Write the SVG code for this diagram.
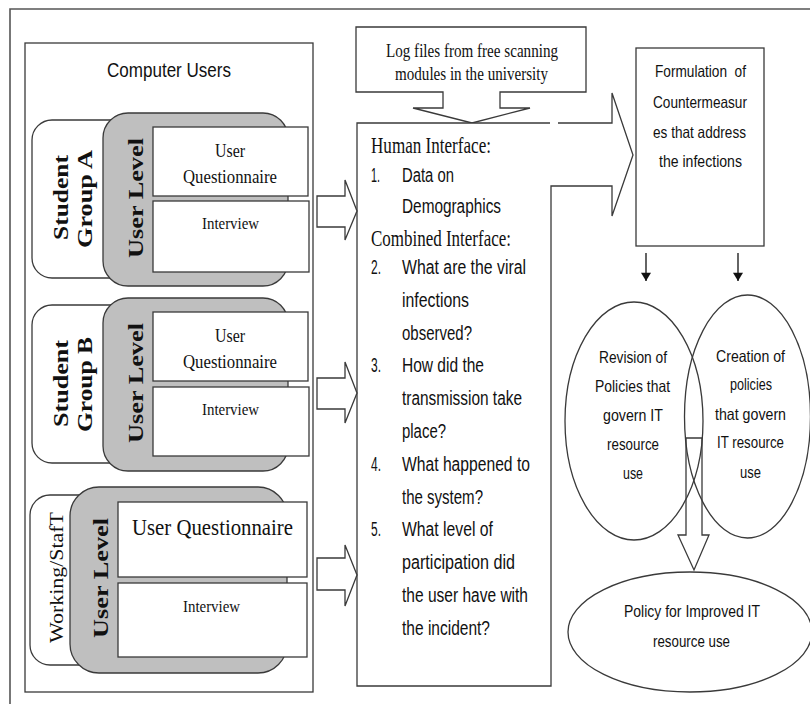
<svg xmlns="http://www.w3.org/2000/svg" width="810" height="704" viewBox="0 0 810 704">
<style>
.ln{fill:none;stroke:#3a3a3a;stroke-width:1.3}
.wb{fill:#fff;stroke:#3a3a3a;stroke-width:1.3}
.gr{fill:#bfbfbf;stroke:#3a3a3a;stroke-width:1.3}
.sf{font-family:"Liberation Serif","Times New Roman",serif;fill:#111}
.sb{font-family:"Liberation Serif","Times New Roman",serif;font-weight:bold;fill:#111}
.ss{font-family:"Liberation Sans",Arial,sans-serif;fill:#111}
.rb{font-size:16.5px}
.mb{font-size:20px}
</style>
<defs>
<marker id="ah" viewBox="0 0 10 12" refX="10" refY="6" markerWidth="13" markerHeight="10" markerUnits="userSpaceOnUse" orient="auto">
<path d="M0,0 L10,6 L0,12 Z" fill="#111"/>
</marker>
</defs>
<rect width="810" height="704" fill="#fff"/>
<path d="M10,720 V9 H830" fill="none" stroke="#555" stroke-width="1.6"/>

<g id="computer-users">
<rect class="wb" x="25" y="43" width="288" height="649"/>
<text class="ss" font-size="20" x="107" y="77.3" textLength="124" lengthAdjust="spacingAndGlyphs">Computer Users</text>
</g>

<g id="student-group-a">
<rect class="wb" x="32" y="120" width="120" height="158" rx="20"/>
<rect class="gr" x="103" y="113" width="185" height="173" rx="25"/>
<rect class="wb" x="153" y="127" width="155" height="69"/>
<rect class="wb" x="153" y="201" width="156" height="71"/>
<text class="sb" font-size="22" text-anchor="middle" transform="translate(68,197.5) rotate(-90)" textLength="85" lengthAdjust="spacingAndGlyphs">Student</text>
<text class="sb" font-size="22" text-anchor="middle" transform="translate(92,199) rotate(-90)" textLength="98" lengthAdjust="spacingAndGlyphs">Group A</text>
<text class="sb" font-size="22" text-anchor="middle" transform="translate(143,198) rotate(-90)" textLength="120" lengthAdjust="spacingAndGlyphs">User Level</text>
<text class="sf" font-size="18" x="215" y="156.7" textLength="30" lengthAdjust="spacingAndGlyphs">User</text>
<text class="sf" font-size="18" x="183" y="183.3" textLength="94" lengthAdjust="spacingAndGlyphs">Questionnaire</text>
<text class="sf" font-size="16" x="202" y="229.3" textLength="57" lengthAdjust="spacingAndGlyphs">Interview</text>
</g>

<g id="student-group-b">
<rect class="wb" x="32" y="305" width="120" height="158" rx="20"/>
<rect class="gr" x="103" y="298" width="185" height="173" rx="25"/>
<rect class="wb" x="153" y="312" width="155" height="69"/>
<rect class="wb" x="153" y="387" width="156" height="69"/>
<text class="sb" font-size="22" text-anchor="middle" transform="translate(68,383.5) rotate(-90)" textLength="87" lengthAdjust="spacingAndGlyphs">Student</text>
<text class="sb" font-size="22" text-anchor="middle" transform="translate(92,384.5) rotate(-90)" textLength="95" lengthAdjust="spacingAndGlyphs">Group B</text>
<text class="sb" font-size="22" text-anchor="middle" transform="translate(143,383) rotate(-90)" textLength="120" lengthAdjust="spacingAndGlyphs">User Level</text>
<text class="sf" font-size="18" x="215" y="341.7" textLength="30" lengthAdjust="spacingAndGlyphs">User</text>
<text class="sf" font-size="18" x="183" y="368.3" textLength="94" lengthAdjust="spacingAndGlyphs">Questionnaire</text>
<text class="sf" font-size="16" x="202" y="415" textLength="57" lengthAdjust="spacingAndGlyphs">Interview</text>
</g>

<g id="working-staff">
<rect class="wb" x="30" y="495" width="100" height="170" rx="20"/>
<rect class="gr" x="70" y="487" width="217" height="186" rx="29"/>
<rect class="wb" x="118" y="502" width="189" height="75"/>
<rect class="wb" x="118" y="583" width="189" height="74"/>
<text class="sf" font-size="18.5" text-anchor="middle" transform="translate(63,577.5) rotate(-90)" textLength="131" lengthAdjust="spacingAndGlyphs">Working/StafT</text>
<text class="sb" font-size="21" text-anchor="middle" transform="translate(108,578) rotate(-90)" textLength="120" lengthAdjust="spacingAndGlyphs">User Level</text>
<text class="sf" font-size="24" x="132" y="535" textLength="161" lengthAdjust="spacingAndGlyphs">User Questionnaire</text>
<text class="sf" font-size="16" x="183" y="611.7" textLength="57" lengthAdjust="spacingAndGlyphs">Interview</text>
</g>

<g id="log-files">
<path class="wb" d="M356,27 H586 V92 H500 V108 H530 L472,123 L413,108 H443 V92 H356 Z"/>
<text class="sf" font-size="19" x="386" y="57.3" textLength="172" lengthAdjust="spacingAndGlyphs">Log files from free scanning</text>
<text class="sf" font-size="19" x="395" y="80" textLength="153" lengthAdjust="spacingAndGlyphs">modules in the university</text>
</g>

<g id="interfaces">
<path class="wb" d="M558,123 H612 V93 L633,155 L612,216 V186 H551 V686 H357 V123 H550"/>
<text class="sf" font-size="22.5" x="371" y="152.7" textLength="120" lengthAdjust="spacingAndGlyphs">Human Interface:</text>
<g class="ss mb">
<text x="371" y="181.7" textLength="9" lengthAdjust="spacingAndGlyphs">1.</text>
<text x="402" y="181.7" textLength="52" lengthAdjust="spacingAndGlyphs">Data on</text>
<text x="402" y="213.3" textLength="99" lengthAdjust="spacingAndGlyphs">Demographics</text>
</g>
<text class="sf" font-size="22.5" x="371" y="246" textLength="140" lengthAdjust="spacingAndGlyphs">Combined Interface:</text>
<g class="ss mb">
<text x="371" y="274" textLength="10" lengthAdjust="spacingAndGlyphs">2.</text>
<text x="402" y="274" textLength="124" lengthAdjust="spacingAndGlyphs">What are the viral</text>
<text x="402" y="306.8" textLength="67" lengthAdjust="spacingAndGlyphs">infections</text>
<text x="402" y="339.6" textLength="70" lengthAdjust="spacingAndGlyphs">observed?</text>
<text x="371" y="372.4" textLength="10" lengthAdjust="spacingAndGlyphs">3.</text>
<text x="402" y="372.4" textLength="82" lengthAdjust="spacingAndGlyphs">How did the</text>
<text x="402" y="405.2" textLength="120" lengthAdjust="spacingAndGlyphs">transmission take</text>
<text x="402" y="438" textLength="44" lengthAdjust="spacingAndGlyphs">place?</text>
<text x="371" y="470.8" textLength="10" lengthAdjust="spacingAndGlyphs">4.</text>
<text x="402" y="470.8" textLength="128" lengthAdjust="spacingAndGlyphs">What happened to</text>
<text x="402" y="503.6" textLength="81" lengthAdjust="spacingAndGlyphs">the system?</text>
<text x="371" y="536.4" textLength="10" lengthAdjust="spacingAndGlyphs">5.</text>
<text x="402" y="536.4" textLength="91" lengthAdjust="spacingAndGlyphs">What level of</text>
<text x="402" y="569.2" textLength="113" lengthAdjust="spacingAndGlyphs">participation did</text>
<text x="402" y="602" textLength="126" lengthAdjust="spacingAndGlyphs">the user have with</text>
<text x="402" y="634.8" textLength="88" lengthAdjust="spacingAndGlyphs">the incident?</text>
</g>
</g>

<g id="formulation">
<rect class="wb" x="636" y="48" width="128" height="198"/>
<g class="ss rb">
<text x="655" y="76.7" textLength="91" lengthAdjust="spacingAndGlyphs" xml:space="preserve">Formulation  of</text>
<text x="653" y="108.3" textLength="94" lengthAdjust="spacingAndGlyphs">Countermeasur</text>
<text x="653" y="138.3" textLength="93" lengthAdjust="spacingAndGlyphs">es that address</text>
<text x="659" y="166.7" textLength="83" lengthAdjust="spacingAndGlyphs">the infections</text>
</g>
</g>

<g id="revision">
<ellipse class="ln" cx="634" cy="421" rx="69" ry="119"/>
<g class="ss rb">
<text x="599" y="363" textLength="68" lengthAdjust="spacingAndGlyphs">Revision of</text>
<text x="595" y="392" textLength="75" lengthAdjust="spacingAndGlyphs">Policies that</text>
<text x="603" y="421" textLength="60" lengthAdjust="spacingAndGlyphs">govern IT</text>
<text x="607" y="450" textLength="52" lengthAdjust="spacingAndGlyphs">resource</text>
<text x="623" y="479" textLength="20" lengthAdjust="spacingAndGlyphs">use</text>
</g>
</g>

<g id="creation">
<ellipse class="ln" cx="747.5" cy="416.5" rx="63" ry="121.5"/>
<g class="ss rb">
<text x="716" y="362" textLength="69" lengthAdjust="spacingAndGlyphs">Creation of</text>
<text x="730" y="390" textLength="42" lengthAdjust="spacingAndGlyphs">policies</text>
<text x="715" y="420" textLength="71" lengthAdjust="spacingAndGlyphs">that govern</text>
<text x="717" y="448" textLength="67" lengthAdjust="spacingAndGlyphs">IT resource</text>
<text x="740" y="478" textLength="21" lengthAdjust="spacingAndGlyphs">use</text>
</g>
</g>

<g id="policy">
<ellipse class="wb" cx="690" cy="632" rx="122" ry="60"/>
<g class="ss" font-size="17">
<text x="624" y="616.7" textLength="136" lengthAdjust="spacingAndGlyphs">Policy for Improved IT</text>
<text x="653" y="646.7" textLength="77" lengthAdjust="spacingAndGlyphs">resource use</text>
</g>
</g>

<g id="connectors">
<polygon class="wb" points="317,196 345,196 345,180 357,211 345,240 345,227 317,227"/>
<polygon class="wb" points="317,378 345,378 345,362 357,393 345,423 345,409 317,409"/>
<polygon class="wb" points="317,558 345,558 345,545 357,575 345,606 345,590 317,590"/>
<line x1="646" y1="253" x2="646" y2="281" stroke="#111" stroke-width="1.3" marker-end="url(#ah)"/>
<line x1="738" y1="253" x2="738" y2="281" stroke="#111" stroke-width="1.3" marker-end="url(#ah)"/>
<polygon class="ln" points="686,438 702,438 702,535 709,535 694,570 678,535 686,535"/>
</g>
</svg>
